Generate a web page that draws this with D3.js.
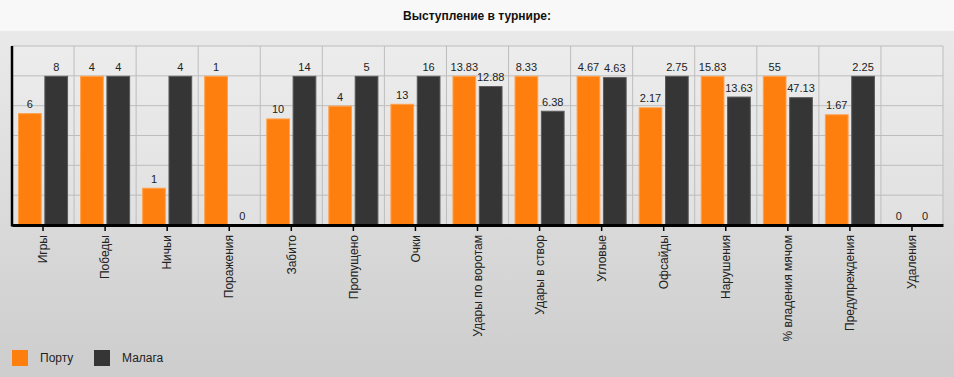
<!DOCTYPE html>
<meta charset="utf-8">
<script src="https://cdn.jsdelivr.net/npm/d3@7"></script>
<style type="text/css">
body { margin: 0; }
text { font-family: "Liberation Sans", Arial, sans-serif; }
.grid line { stroke: #bdbdbd; stroke-width: 1; }
.x.axis path { stroke: #000; stroke-width: 3; }
.x.axis line { stroke: #000; stroke-width: 1.5; }
.x.axis text { font-size: 12px; fill: #222; }
.bar1 { fill: #ff7f0e; stroke: #ffa04d; stroke-width: 1; }
.bar2 { fill: #353535; stroke: #5a5a5a; stroke-width: 1; }
.val { font-size: 11px; fill: #222; text-anchor: middle; }
</style>
<body>
</body>
<script>
var categories = ["Игры", "Победы", "Ничьи", "Поражения", "Забито", "Пропущено", "Очки",
  "Удары по воротам", "Удары в створ", "Угловые", "Офсайды", "Нарушения",
  "% владения мячом", "Предупреждения", "Удаления"];
var porto  = [6, 4, 1, 1, 10, 4, 13, 13.83, 8.33, 4.67, 2.17, 15.83, 55, 1.67, 0];
var malaga = [8, 4, 4, 0, 14, 5, 16, 12.88, 6.38, 4.63, 2.75, 13.63, 47.13, 2.25, 0];
var series = ["Порту", "Малага"];
var colors = ["#ff7f0e", "#353535"];

var W = 954, H = 377;
var margin = {top: 46, left: 12, right: 11, bottom: 152};
var width = W - margin.left - margin.right, height = H - margin.top - margin.bottom;

var svg = d3.select("body").append("svg")
    .attr("width", W)
    .attr("height", H);

var defs = svg.append("defs");
var grad = defs.append("linearGradient").attr("id", "bg")
    .attr("x1", 0).attr("y1", 0).attr("x2", 0).attr("y2", 1);
grad.append("stop").attr("offset", "0%").attr("stop-color", "#ececec");
grad.append("stop").attr("offset", "100%").attr("stop-color", "#cdcdcd");

svg.append("rect").attr("width", W).attr("height", H).attr("fill", "url(#bg)");
svg.append("rect").attr("width", W).attr("height", 31).attr("fill", "#f8f8f8");

svg.append("text")
    .text("Выступление в турнире:")
    .attr("x", W / 2)
    .attr("y", 20)
    .attr("text-anchor", "middle")
    .attr("font-weight", "bold")
    .attr("font-size", "12px")
    .attr("fill", "#111");

var g = svg.append("g")
    .attr("transform", "translate(" + margin.left + "," + margin.top + ")");

g.append("rect").attr("width", width).attr("height", height)
    .attr("fill", "#fff").attr("fill-opacity", 0.2);

// each pair is scaled so that the bigger value fills the reference height
var rows = categories.map(function(c, i) {
  var m = Math.max(porto[i], malaga[i]);
  return {cat: c, vals: [porto[i], malaga[i]].map(function(v) { return {v: v, n: m > 0 ? v / m : 0}; })};
});

var x = d3.scaleBand().domain(categories).range([0, width]);
var x1 = d3.scaleBand().domain([0, 1]).range([6, x.bandwidth() - 6]).paddingInner(0.1);
var y = d3.scaleLinear().domain([0, 1.2]).range([height, 0]);

// grid
var grid = g.append("g").attr("class", "grid");
grid.selectAll(".h").data(y.ticks(6)).enter().append("line")
    .attr("x1", 0).attr("x2", width)
    .attr("y1", function(d) { return y(d); }).attr("y2", function(d) { return y(d); });
grid.selectAll(".v").data(categories).enter().append("line")
    .attr("x1", function(d) { return x(d) + x.bandwidth(); })
    .attr("x2", function(d) { return x(d) + x.bandwidth(); })
    .attr("y1", 0).attr("y2", height);

var cat = g.selectAll(".cat").data(rows).enter().append("g")
    .attr("transform", function(d) { return "translate(" + x(d.cat) + ",0)"; });

cat.selectAll("rect").data(function(d) { return d.vals; }).enter().append("rect")
    .attr("class", function(d, i) { return "bar" + (i + 1); })
    .attr("x", function(d, i) { return x1(i) + 0.5; })
    .attr("width", x1.bandwidth() - 1)
    .attr("y", function(d) { return y(d.n) + 0.5; })
    .attr("height", function(d) { return Math.max(0, height - y(d.n) - 0.5); })
    .style("display", function(d) { return d.n > 0 ? null : "none"; });

cat.selectAll(".val").data(function(d) { return d.vals; }).enter().append("text")
    .attr("class", "val")
    .attr("x", function(d, i) { return x1(i) + x1.bandwidth() / 2; })
    .attr("y", function(d) { return y(d.n) - 5; })
    .text(function(d) { return d.v; });

var xAxis = g.append("g")
    .attr("class", "x axis")
    .attr("transform", "translate(0," + height + ")")
    .call(d3.axisBottom(x).tickSize(6).tickSizeOuter(0));
xAxis.selectAll("text")
    .attr("transform", "rotate(-90)")
    .attr("x", -10)
    .attr("y", 0)
    .attr("dy", "0.35em")
    .style("text-anchor", "end");

g.append("line")
    .attr("x1", 0).attr("x2", 0).attr("y1", 0).attr("y2", height + 1.5)
    .attr("stroke", "#000").attr("stroke-width", 2.5);

// legend
var legend = svg.selectAll(".legend").data(series).enter().append("g")
    .attr("class", "legend")
    .attr("transform", function(d, i) { return "translate(" + (12 + i * 82) + ",350)"; });
legend.append("rect").attr("width", 16).attr("height", 16)
    .attr("fill", function(d, i) { return colors[i]; });
legend.append("text").text(function(d) { return d; })
    .attr("x", 28).attr("y", 12)
    .attr("font-size", "12px").attr("fill", "#222");
</script>
